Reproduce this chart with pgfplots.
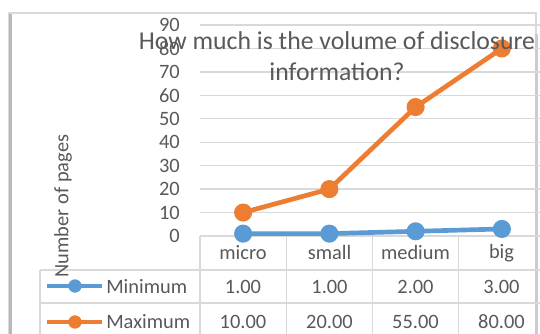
\documentclass[border=0pt]{standalone}
\usepackage{pgfplots}
\pgfplotsset{compat=1.18}
\usepackage{fontspec}
\setmainfont{Carlito}
\definecolor{txt}{HTML}{595959}
\definecolor{grd}{HTML}{D9D9D9}
\definecolor{cblue}{HTML}{5B9BD5}
\definecolor{corange}{HTML}{ED7D31}
\newcommand\fs{\fontsize{15.3}{23}\selectfont}
\newcommand\fst{\fontsize{19.3}{23.5}\selectfont}
\begin{document}
\begin{tikzpicture}[x=0.75pt,y=0.75pt]
\path[use as bounding box] (0,0) rectangle (540,334);
% frame
\fill[white] (9,-5) rectangle (536,321);
\draw[grd, line width=1pt] (9,-5) rectangle (536,321);
\draw[gray!55, line width=2.2pt] (10.5,-5) -- (10.5,320);
\draw[gray!40, line width=2.5pt] (536.5,-5) -- (536.5,300);
\begin{axis}[
  at={(150pt,73.5pt)}, anchor=south west,
  width=258.75pt, height=158.25pt, scale only axis,
  xmin=-0.5, xmax=3.5, ymin=0, ymax=90,
  ytick={0,10,...,90}, xtick=\empty,
  ymajorgrids, grid style={grd, line width=1pt},
  axis line style={draw=none}, major tick length=0pt,
  /pgf/number format/assume math mode=true,
  yticklabel style={font=\fs, text=txt, inner sep=0pt, xshift=-15pt},
  clip=false,
]
\addplot[cblue, line width=3.5pt, mark=*, mark size=5pt] coordinates {(0,1) (1,1) (2,2) (3,3)};
\addplot[corange, line width=3.5pt, mark=*, mark size=5pt] coordinates {(0,10) (1,20) (2,55) (3,80)};
\end{axis}
% table lines
\draw[grd, line width=1pt] (40,64) -- (545,64);
\draw[grd, line width=1pt] (40,31) -- (545,31);
\draw[grd, line width=1pt] (40,64) -- (40,-5);
\draw[grd, line width=1pt] (200,98) -- (200,-5);
\foreach \x in {286.5,372.5,458.5} \draw[grd, line width=1pt] (\x,98) -- (\x,-5);
% table text
\foreach \x/\t in {243/micro,329.5/small,415.5/medium,501.5/big}
  \node[font=\fs, text=txt] at (\x,81) {\t};
\foreach \x/\t in {243/1.00,329.5/1.00,415.5/2.00,501.5/3.00}
  \node[font=\fs, text=txt] at (\x,47) {\t};
\foreach \x/\t in {243/10.00,329.5/20.00,415.5/55.00,501.5/80.00}
  \node[font=\fs, text=txt] at (\x,12) {\t};
% legend keys
\draw[cblue, line width=3.5pt] (47,48) -- (102,48);
\fill[cblue] (75,48) circle (5pt);
\draw[corange, line width=3.5pt] (47,12) -- (102,12);
\fill[corange] (75,12) circle (5pt);
\node[font=\fs, text=txt, anchor=west, inner sep=0pt] at (106,47) {Minimum};
\node[font=\fs, text=txt, anchor=west, inner sep=0pt] at (106,12) {Maximum};
% y label
\node[font=\fs, text=txt, rotate=90] at (63,128) {Number of pages};
% title
\node[font=\fst, text=txt, align=center] at (337,278) {How much is the volume of disclosure\\information?};
\end{tikzpicture}
\end{document}
